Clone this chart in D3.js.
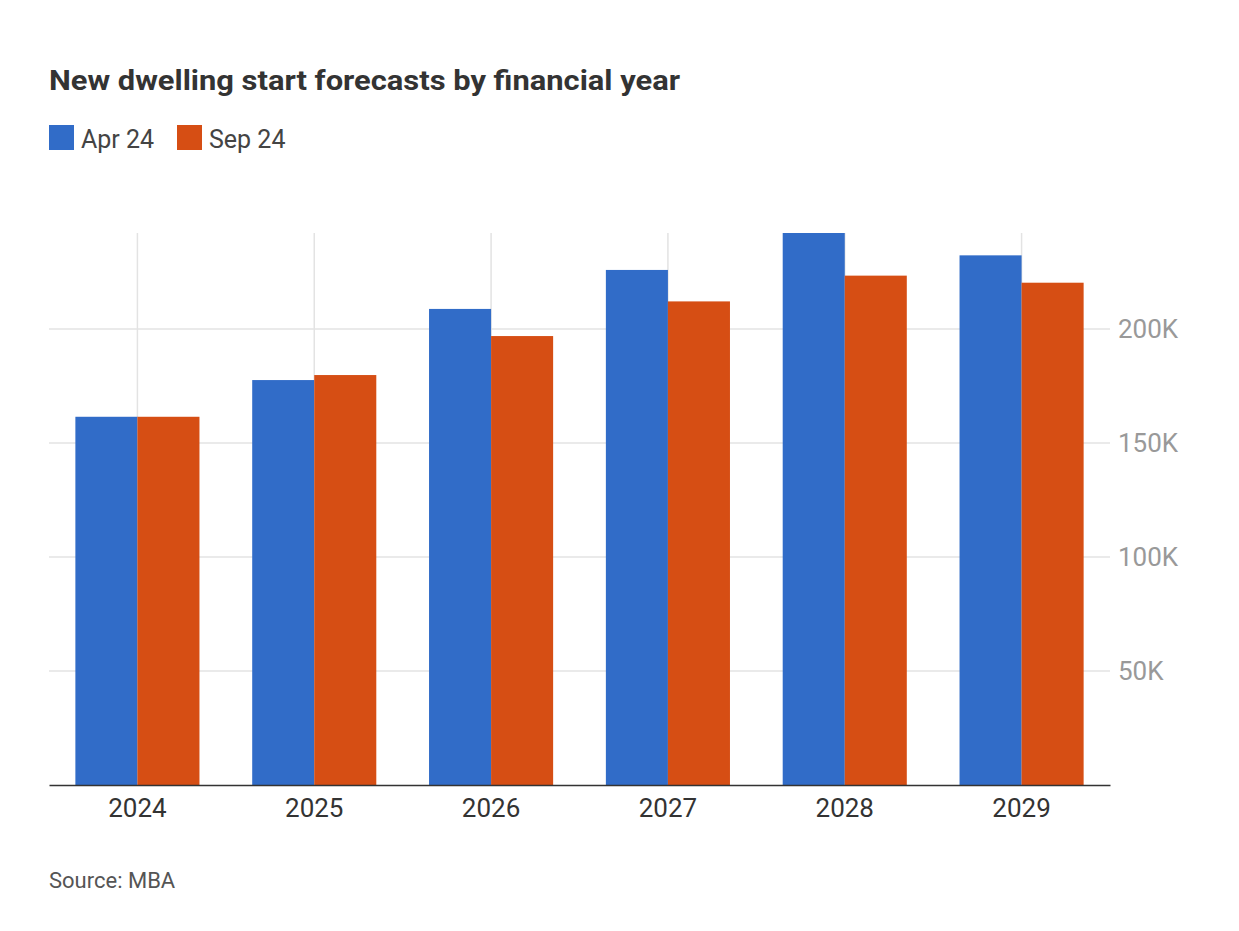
<!DOCTYPE html>
<html>
<head>
<meta charset="utf-8">
<script src="https://cdn.jsdelivr.net/npm/d3@7"></script>
<style>
  body { margin: 0; background: #fff; font-family: Roboto, "Noto Sans", sans-serif; }
</style>
</head>
<body>
<div id="chart"></div>
<script>
const years = ["2024", "2025", "2026", "2027", "2028", "2029"];
const seriesNames = ["Apr 24", "Sep 24"];
const apr24 = [161500, 177600, 208800, 225900, 242100, 232300];
const sep24 = [161500, 179800, 196900, 212100, 223400, 220300];
const yTicks = [50000, 100000, 150000, 200000];
const colors = ["#316cc8", "#d64e14"];

const width = 1239;
const height = 931;
const margin = { top: 233, right: 129, bottom: 146, left: 49 };

const svg = d3
  .select("#chart")
  .append("svg")
  .attr("width", width)
  .attr("height", height);

// Title
svg
  .append("text")
  .attr("x", 49)
  .attr("y", 90)
  .attr("font-size", 27)
  .attr("font-weight", "bold")
  .attr("fill", "#333")
  .attr("textLength", 631)
  .attr("lengthAdjust", "spacingAndGlyphs")
  .text("New dwelling start forecasts by financial year");

// Legend
const legend = svg.append("g").attr("transform", "translate(49,125)");
const legendX = [0, 128];
seriesNames.forEach((name, i) => {
  legend
    .append("rect")
    .attr("x", legendX[i])
    .attr("y", 0)
    .attr("width", 25)
    .attr("height", 25)
    .attr("fill", colors[i]);
  legend
    .append("text")
    .attr("x", legendX[i] + 32)
    .attr("y", 23)
    .attr("font-size", 25)
    .attr("fill", "#444")
    .text(name);
});

const x = d3
  .scaleBand()
  .domain(years)
  .range([margin.left, width - margin.right]);

const y = d3
  .scaleLinear()
  .domain([0, d3.max(apr24.concat(sep24))])
  .range([height - margin.bottom, margin.top]);

// Horizontal gridlines
svg
  .append("g")
  .selectAll("line")
  .data(yTicks)
  .join("line")
  .attr("x1", margin.left)
  .attr("x2", width - margin.right)
  .attr("y1", (d) => y(d))
  .attr("y2", (d) => y(d))
  .attr("stroke", "#e3e3e3")
  .attr("stroke-width", 1.5);

// Vertical gridlines at category centres
svg
  .append("g")
  .selectAll("line")
  .data(years)
  .join("line")
  .attr("x1", (d) => x(d) + x.bandwidth() / 2)
  .attr("x2", (d) => x(d) + x.bandwidth() / 2)
  .attr("y1", margin.top)
  .attr("y2", height - margin.bottom)
  .attr("stroke", "#e3e3e3")
  .attr("stroke-width", 1.5);

// Bars
const inner = d3
  .scaleBand()
  .domain(seriesNames)
  .range([0, x.bandwidth()])
  .paddingOuter(0.425)
  .paddingInner(0);

const series = [apr24, sep24];
series.forEach((vals, s) => {
  svg
    .append("g")
    .selectAll("rect")
    .data(vals)
    .join("rect")
    .attr("x", (d, i) => x(years[i]) + inner(seriesNames[s]))
    .attr("y", (d) => y(d))
    .attr("width", inner.bandwidth())
    .attr("height", (d) => y(0) - y(d))
    .attr("fill", colors[s]);
});

// X axis
const xAxis = svg
  .append("g")
  .attr("transform", `translate(0,${height - margin.bottom})`)
  .call(d3.axisBottom(x).tickSize(0).tickPadding(14));
xAxis.select(".domain").attr("stroke", "#333").attr("stroke-width", 1.5);
xAxis
  .selectAll("text")
  .attr("font-size", 26)
  .attr("font-family", "Roboto, 'Noto Sans', sans-serif")
  .attr("fill", "#333");

// Y axis on the right
const yAxis = svg
  .append("g")
  .attr("transform", `translate(${width - margin.right},0)`)
  .call(
    d3
      .axisRight(y)
      .tickValues(yTicks)
      .tickSize(0)
      .tickPadding(8)
      .tickFormat((d) => d / 1000 + "K")
  );
yAxis.select(".domain").remove();
yAxis
  .selectAll("text")
  .attr("font-size", 26)
  .attr("font-family", "Roboto, 'Noto Sans', sans-serif")
  .attr("fill", "#999");

// Source
svg
  .append("text")
  .attr("x", 49)
  .attr("y", 888)
  .attr("font-size", 22)
  .attr("fill", "#555")
  .text("Source: MBA");
</script>
</body>
</html>
